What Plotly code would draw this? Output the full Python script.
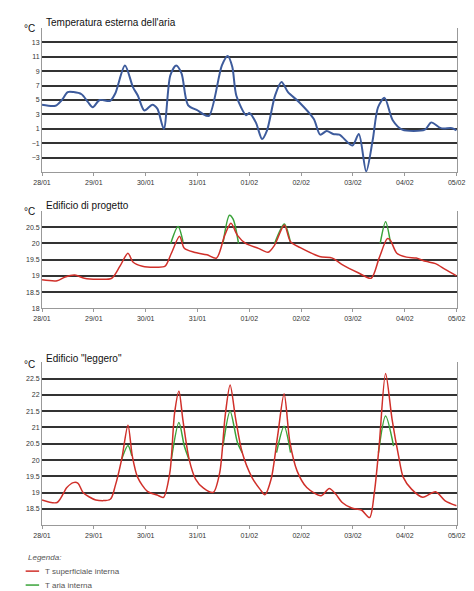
import plotly.graph_objects as go

tick_labels = ["28/01","29/01","30/01","31/01","01/02","02/02","03/02","04/02","05/02"]
tick_hours = [0,24,48,72,96,120,144,168,192]

ext_h = [0,6.2,9.2,11.9,14.6,18.3,21.3,23.5,26.7,31.6,33.9,38.4,42.1,44.4,47.4,51.1,53.4,56.4,59.4,62.1,64.6,67.6,72.1,74.3,77.3,83.3,86.0,88.1,90.0,94.5,96.0,99.0,101.9,104.2,107.9,110.9,113.9,119.1,125.8,128.8,131.8,134.8,137.7,143.7,146.7,150.1,153.1,155.6,158.6,162.4,166.8,177.3,180.2,184.7,189.9,192]
ext_t = [4.35,4.2,5.0,6.1,6.1,5.8,4.7,4.0,5.0,4.9,5.9,9.8,6.8,5.6,3.55,4.35,3.8,1.0,8.4,9.8,8.7,4.3,3.55,3.1,2.8,9.8,11.1,9.6,5.6,2.9,3.2,1.9,-0.4,0.8,5.6,7.5,6.1,4.7,2.4,0.2,0.7,0.3,0.2,-1.3,0.3,-4.9,-0.6,4.0,5.3,2.2,0.9,0.9,1.9,1.1,1.1,0.8]

prog_h = [0,7.0,10.7,15.2,19.6,25.6,32.3,36.1,39.8,42.1,46.5,52.5,57.0,59.9,63.7,65.9,70.4,76.4,80.8,84.6,87.5,90.5,94.3,100.2,104.7,107.7,112.2,115.1,119.6,128.5,134.5,139.0,146.4,152.4,156.1,159.9,161.3,164.3,168.8,173.3,177.7,182.2,186.7,192]
prog_surf = [18.88,18.85,18.97,19.03,18.93,18.9,18.93,19.3,19.7,19.43,19.3,19.27,19.3,19.7,20.22,19.85,19.73,19.65,19.55,20.25,20.62,20.25,20.0,19.85,19.73,19.95,20.57,20.05,19.87,19.6,19.55,19.35,19.1,18.93,19.55,20.15,20.1,19.7,19.58,19.55,19.45,19.38,19.2,19.0]
prog_air_h = [59.6,63.0,65.3,None,83.8,86.8,88.5,91.0,None,107.7,112.2,115.0,None,156.6,159.1,161.3]
prog_air = [20.0,20.52,20.05,None,20.0,20.87,20.75,20.0,None,20.0,20.6,20.05,None,20.0,20.67,20.05]

legg_h = [0,7,11.5,14.5,16.7,19,24.9,31.6,33.9,36.9,39.8,41.8,44.3,48.8,53.3,56.2,59.2,61.4,63.4,65.2,68.1,71.1,74.8,79.3,82.3,84.8,87.1,89.7,92.7,97.2,100.9,103.2,106.1,109.1,112.1,114.8,118.1,122.6,129.3,133.0,136.0,139.0,143.4,147.9,151.7,153.9,156.1,159.1,162.1,165.1,167.3,171.1,176.3,182.2,186.7,192]
legg_surf = [18.78,18.7,19.16,19.31,19.29,19.01,18.78,18.8,19.21,20.03,21.07,20.13,19.47,19.04,18.93,18.86,19.62,21.45,22.11,21.25,20.03,19.42,19.14,19.01,19.62,21.35,22.3,21.25,20.23,19.47,19.11,18.94,19.42,20.74,22.03,20.54,19.67,19.16,18.91,19.13,18.96,18.7,18.53,18.47,18.24,19.01,20.43,22.65,21.25,20.13,19.47,19.11,18.86,19.03,18.75,18.6]
legg_air_h = [36.9,39.8,41.6,None,59.9,63.4,65.9,68.0,None,83.8,87.1,90.5,92.7,None,108.6,112.1,115.1,None,155.8,159.1,162.8]
legg_air = [20.03,20.45,20.13,None,20.03,21.15,20.43,20.03,None,20.43,21.5,20.54,20.23,None,20.23,21.04,20.23,None,20.23,21.35,20.43]

legend_labels = ["T superficiale interna", "T aria interna"]

RED = "#d0302a"
GREEN = "#3aa33a"
BLUE = "#3d5b9c"

fig = go.Figure()
fig.add_trace(go.Scatter(x=ext_h, y=ext_t, mode="lines", line=dict(color=BLUE, width=2, shape="spline", smoothing=0.8), showlegend=False, xaxis="x", yaxis="y"))
fig.add_trace(go.Scatter(x=prog_air_h, y=prog_air, mode="lines", line=dict(color=GREEN, width=1.5, shape="spline", smoothing=0.8), showlegend=False, xaxis="x2", yaxis="y2", connectgaps=False))
fig.add_trace(go.Scatter(x=prog_h, y=prog_surf, mode="lines", line=dict(color=RED, width=1.5, shape="spline", smoothing=0.8), showlegend=False, xaxis="x2", yaxis="y2"))
fig.add_trace(go.Scatter(x=legg_air_h, y=legg_air, mode="lines", line=dict(color=GREEN, width=1.5, shape="spline", smoothing=0.8), showlegend=False, xaxis="x3", yaxis="y3", connectgaps=False))
fig.add_trace(go.Scatter(x=legg_h, y=legg_surf, mode="lines", line=dict(color=RED, width=1.5, shape="spline", smoothing=0.8), showlegend=False, xaxis="x3", yaxis="y3"))

W, H = 474, 591
def dom(top, bot):
    return [1 - bot / H, 1 - top / H]

xcommon = dict(range=[0, 192], tickvals=tick_hours, ticktext=tick_labels, showgrid=False, zeroline=False,
               showline=True, linecolor="#999", ticks="outside", ticklen=3, tickcolor="#999",
               tickfont=dict(size=7, family="Liberation Sans", color="#333"), mirror=False, domain=[26 / W, 457 / W])
ycommon = dict(showgrid=True, gridcolor="#333", gridwidth=1.6, zeroline=False, showline=True, linecolor="#999",
               ticks="", tickfont=dict(size=7, family="Liberation Sans", color="#333"), mirror=True)

fig.update_layout(
    width=W, height=H, margin=dict(l=0, r=0, t=0, b=0),
    paper_bgcolor="white", plot_bgcolor="white", showlegend=False,
    xaxis=dict(xcommon, anchor="y"),
    yaxis=dict(ycommon, range=[-5, 15], tickvals=[-3, -1, 1, 3, 5, 7, 9, 11, 13], domain=dom(20, 165), anchor="x"),
    xaxis2=dict(xcommon, anchor="y2"),
    yaxis2=dict(ycommon, range=[18, 21], tickvals=[18, 18.5, 19, 19.5, 20, 20.5], ticktext=["18", "18.5", "19", "19.5", "20", "20.5"], domain=dom(204, 302), anchor="x2"),
    xaxis3=dict(xcommon, anchor="y3"),
    yaxis3=dict(ycommon, range=[18, 23], tickvals=[18.5, 19, 19.5, 20, 20.5, 21, 21.5, 22, 22.5], domain=dom(356, 520), anchor="x3"),
)

titles = [("Temperatura esterna dell'aria", 15), ("Edificio di progetto", 199), ('Edificio "leggero"', 352)]
for t, y in titles:
    fig.add_annotation(text=t, x=28 / W, y=1 - y / H, xref="paper", yref="paper", xanchor="left", yanchor="middle",
                       showarrow=False, font=dict(size=10, family="Liberation Sans", color="#111"))
    fig.add_annotation(text="°C", x=5 / W, y=1 - (y + 6) / H, xref="paper", yref="paper", xanchor="left", yanchor="middle",
                       showarrow=False, font=dict(size=10, family="Liberation Sans", color="#111"))

# legend block
fig.add_annotation(text="<i>Legenda:</i>", x=9 / W, y=1 - 552 / H, xref="paper", yref="paper", xanchor="left",
                   yanchor="middle", showarrow=False, font=dict(size=8, family="Liberation Sans", color="#555"))
for i, (lab, col) in enumerate(zip(legend_labels, [RED, GREEN])):
    yy = 566 + 14 * i
    fig.add_shape(type="line", xref="paper", yref="paper", x0=9 / W, x1=23 / W, y0=1 - yy / H, y1=1 - yy / H,
                  line=dict(color=col, width=1.5))
    fig.add_annotation(text=lab, x=27 / W, y=1 - yy / H, xref="paper", yref="paper", xanchor="left",
                       yanchor="middle", showarrow=False, font=dict(size=8, family="Liberation Sans", color="#555"))

fig.write_html("out.html")
